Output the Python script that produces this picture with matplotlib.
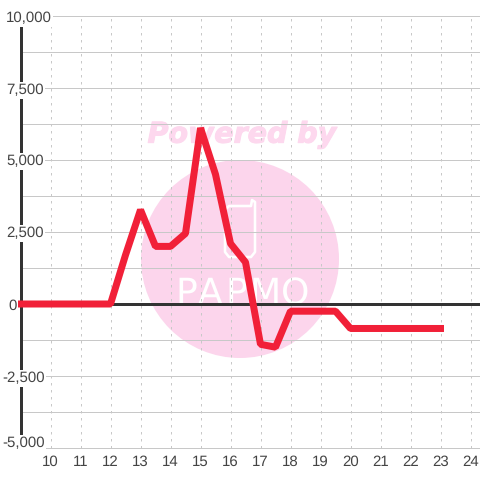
import matplotlib
matplotlib.use('Agg')
import matplotlib.pyplot as plt
import matplotlib.patheffects as pe
from matplotlib.patches import Circle

plt.rcParams['font.family'] = ['Liberation Sans', 'DejaVu Sans']
plt.rcParams['text.hinting'] = 'no_hinting'

# half hour steps, profit through the day
hours = [9, 10, 11, 12, 12.5, 13, 13.5, 14, 14.5, 15, 15.5, 16, 16.5, 17, 17.5, 18, 18.5, 19, 19.5, 20, 21, 22, 23]
values = [0, 0, 0, 0, 1700, 3270, 2000, 2000, 2450, 6110, 4500, 2100, 1450, -1400, -1500, -250, -250, -250, -250, -850, -850, -850, -850]

x_ticks = list(range(10, 25))
y_grid = [-5000, -3750, -2500, -1250, 0, 1250, 2500, 3750, 5000, 6250, 7500, 8750, 10000]
y_ticks = [10000, 7500, 5000, 2500, 0, -2500, -5000]
y_labels = ['10,000', '7,500', '5,000', '2,500', '0', '-2,500', '-5,000']
y_nudge = [-1, -1, 0, 0, 0, -1, 6]

text_col = '#444444'
dark = '#333333'
grid_col = '#c8c8c8'
red = '#f12038'
pink = '#fcd5ec'
px = 72 / 100  # one pixel in points

fig = plt.figure(figsize=(4.8, 4.8), dpi=100, facecolor='white')

# watermark sits under the chart, in pixel coords
wm = fig.add_axes([0, 0, 1, 1], zorder=0)
wm.set_xlim(0, 480)
wm.set_ylim(480, 0)
wm.axis('off')
wm.add_patch(Circle((240, 259), 99, color=pink, lw=0))
wm.text(242, 135, 'Powered by', color='#fdd8ee', fontsize=20.5, fontweight='bold', fontstyle='italic',
        family='DejaVu Sans', ha='center', va='center',
        path_effects=[pe.withStroke(linewidth=0.8, foreground='#fdd8ee')])
cup_x = [225, 225, 229, 251, 255, 255, 252, 251, 229, 225]
cup_y = [210, 252, 257, 257, 252, 202, 200, 206, 206, 210]
wm.plot(cup_x, cup_y, color='white', lw=2.6 * px, solid_joinstyle='round')
for letter, lx in zip('PAPMO', [186, 210, 236, 265, 295]):
    wm.text(lx, 304, letter, color='white', fontsize=26, family='Liberation Sans Narrow',
            ha='center', va='baseline')

ax = fig.add_axes([20.5 / 480, 32 / 480, 459.5 / 480, 432 / 480], zorder=1)
ax.patch.set_alpha(0)
ax.set_xlim(9, 9 + 459.5 / 30)
ax.set_ylim(-5000, 10000)

for s in ['top', 'right', 'bottom']:
    ax.spines[s].set_visible(False)
ax.spines['left'].set_color(dark)
ax.spines['left'].set_linewidth(3 * px)

ax.set_xticks(x_ticks)
ax.set_yticks(y_grid)
ax.set_yticklabels([])
ax.tick_params(axis='both', length=0)
ax.tick_params(axis='x', labelsize=10.8, labelcolor=text_col, pad=5)
ax.grid(axis='y', color=grid_col, lw=1 * px)
ax.grid(axis='x', color=grid_col, lw=1 * px, linestyle=(0, (2.5, 4.5)))
ax.set_axisbelow(True)
for line in ax.get_ygridlines():
    line.set_clip_on(False)

ax.axhline(0, color=dark, lw=3 * px, zorder=2)
ax.plot(hours, values, color=red, lw=7 * px, solid_capstyle='projecting', solid_joinstyle='bevel',
        clip_on=False, zorder=3)

for v, lab, nudge in zip(y_ticks, y_labels, y_nudge):
    left = 2 if v < 0 else (8 if v == 0 else 6)
    ax.annotate(lab, (0, v), xycoords=ax.get_yaxis_transform(), xytext=(left - 20.5, nudge),
                textcoords='offset pixels', ha='left', va='center_baseline', fontsize=10.8, color=text_col,
                bbox=dict(boxstyle='square,pad=0.1', fc='white', ec='none'), zorder=5, annotation_clip=False)

fig.savefig('out.png', dpi=100)
